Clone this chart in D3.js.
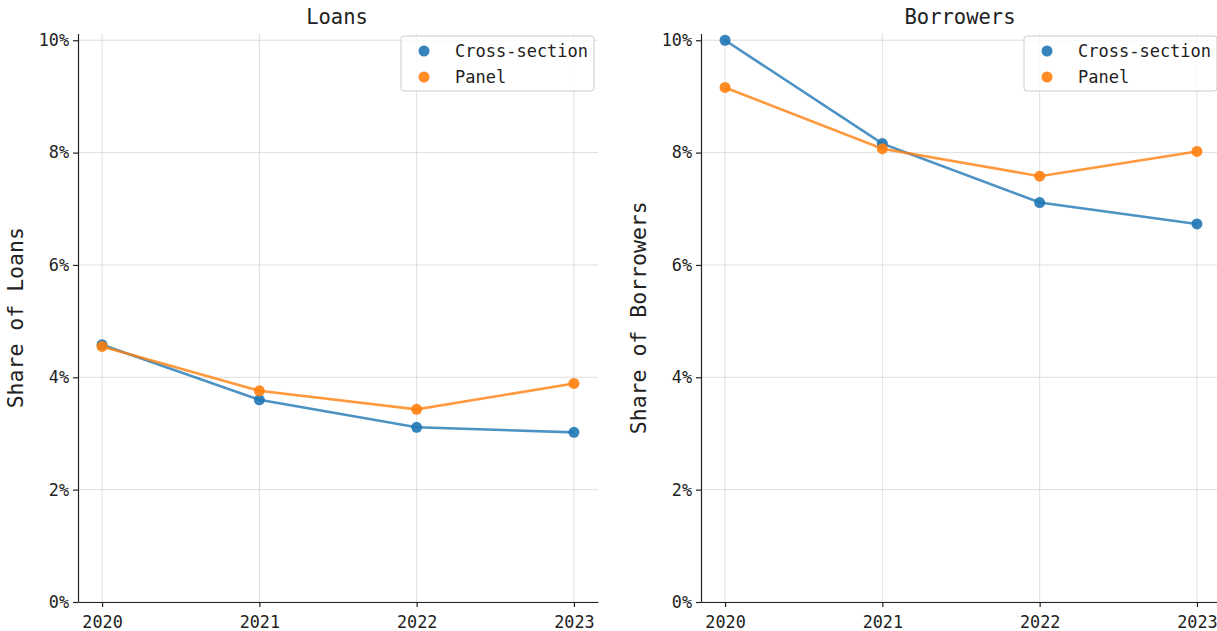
<!DOCTYPE html>
<html><head><meta charset="utf-8">
<script src="https://cdn.jsdelivr.net/npm/d3@7"></script>
<style>body{margin:0;background:#fff;} text{font-family:"DejaVu Sans Mono",monospace;fill:#222;}</style>
</head><body>
<svg id="c" width="1217" height="631"></svg>
<script>
const years = [2020, 2021, 2022, 2023];
const yTicks = [0, 2, 4, 6, 8, 10];
const seriesNames = ["Cross-section", "Panel"];
const colors = ["#1f77b4", "#ff7f0e"];
const loansCross = [4.58, 3.60, 3.11, 3.02];
const loansPanel = [4.55, 3.76, 3.43, 3.89];
const borrCross = [10.0, 8.16, 7.11, 6.73];
const borrPanel = [9.16, 8.07, 7.58, 8.02];
const panels = [
  {title: "Loans", ylabel: "Share of Loans", series: [loansCross, loansPanel], left: 78},
  {title: "Borrowers", ylabel: "Share of Borrowers", series: [borrCross, borrPanel], left: 701}
];
const svg = d3.select("#c");
const W = 520, plotTop = 33.5, plotBottom = 602;
panels.forEach(p => {
  const g = svg.append("g");
  const x = d3.scaleLinear().domain([2019.847, 2023.153]).range([p.left, p.left + W]);
  const y = d3.scaleLinear().domain([0, 10.12]).range([plotBottom, plotTop]);
  // grid
  g.selectAll(".gx").data(years).enter().append("line")
    .attr("x1", d => x(d)).attr("x2", d => x(d)).attr("y1", plotTop).attr("y2", plotBottom)
    .attr("stroke", "#b0b0b0").attr("stroke-opacity", 0.45).attr("stroke-width", 0.9);
  g.selectAll(".gy").data(yTicks).enter().append("line")
    .attr("x1", p.left).attr("x2", p.left + W).attr("y1", d => y(d)).attr("y2", d => y(d))
    .attr("stroke", "#b0b0b0").attr("stroke-opacity", 0.45).attr("stroke-width", 0.9);
  // axes
  const ax = g.append("g").attr("transform", `translate(0,${plotBottom})`)
    .call(d3.axisBottom(x).tickValues(years).tickFormat(d3.format("d")).tickSize(5).tickPadding(6).tickSizeOuter(0));
  const ay = g.append("g").attr("transform", `translate(${p.left},0)`)
    .call(d3.axisLeft(y).tickValues(yTicks).tickFormat(d => d + "%").tickSize(5).tickPadding(4).tickSizeOuter(0));
  [ax, ay].forEach(a => {
    a.selectAll("path").attr("stroke", "#222").attr("stroke-width", 1.2);
    a.selectAll("line").attr("stroke", "#222").attr("stroke-width", 1.2);
    a.selectAll("text").style("font-family", '"DejaVu Sans Mono", monospace').style("font-size", "16.8px").attr("fill", "#222");
  });
  ax.selectAll("text").attr("dy", "0.87em");
  // lines and points
  p.series.forEach((s, i) => {
    const line = d3.line().x((d, j) => x(years[j])).y(d => y(d));
    g.append("path").datum(s).attr("d", line).attr("fill", "none")
      .attr("stroke", colors[i]).attr("stroke-opacity", 0.8).attr("stroke-width", 2.6);
  });
  p.series.forEach((s, i) => {
    g.selectAll(null).data(s).enter().append("circle")
      .attr("cx", (d, j) => x(years[j])).attr("cy", d => y(d)).attr("r", 5.5)
      .attr("fill", colors[i]).attr("fill-opacity", 0.9);
  });
  // title
  g.append("text").attr("x", p.left + W / 2 - 1).attr("y", 24).attr("text-anchor", "middle")
    .style("font-size", "20.5px").text(p.title);
  // ylabel
  g.append("text").attr("transform", `translate(${p.left - 55},${(plotTop + plotBottom) / 2}) rotate(-90)`)
    .attr("text-anchor", "middle").style("font-size", "21.5px").text(p.ylabel);
  // legend
  const lx = p.left + W - 197, ly = 36;
  g.append("rect").attr("x", lx).attr("y", ly).attr("width", 193).attr("height", 55).attr("rx", 3)
    .attr("fill", "#fff").attr("fill-opacity", 0.8).attr("stroke", "#ccc").attr("stroke-width", 1);
  seriesNames.forEach((n, i) => {
    g.append("circle").attr("cx", lx + 23).attr("cy", ly + 15 + i * 26).attr("r", 5.5).attr("fill", colors[i]).attr("fill-opacity", 0.9);
    g.append("text").attr("x", lx + 54).attr("y", ly + 15 + i * 26).attr("dy", "0.35em")
      .style("font-size", "17px").text(n);
  });
});
</script>
</body></html>
